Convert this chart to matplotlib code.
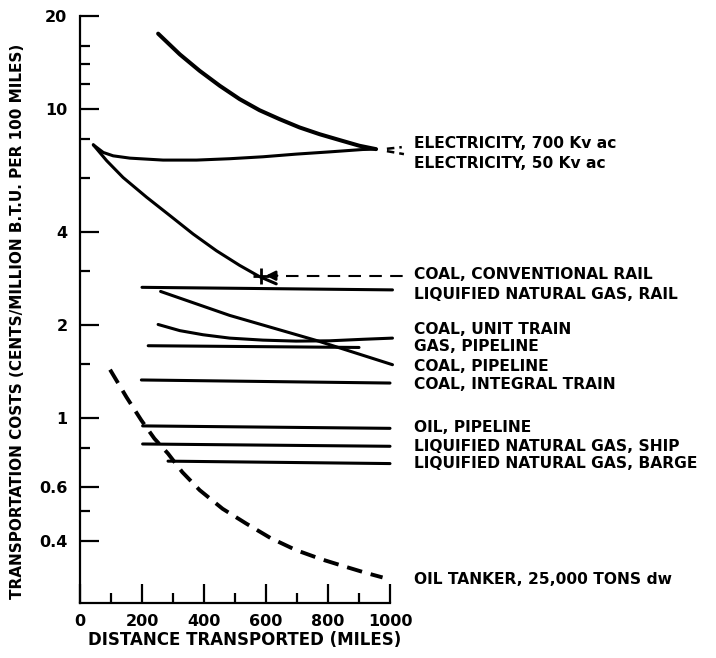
import matplotlib
matplotlib.use('Agg')
import matplotlib.pyplot as plt
from matplotlib.ticker import FixedLocator, NullFormatter

# ---- data ----
elec700_x = [252, 322, 386, 451, 515, 579, 644, 708, 773, 837, 901, 955]
elec700_y = [17.5, 15.0, 13.27, 11.87, 10.75, 9.90, 9.26, 8.71, 8.28, 7.93, 7.60, 7.41]

elec50_x = [43, 75, 107, 161, 268, 376, 483, 590, 697, 805, 912, 955]
elec50_y = [7.65, 7.23, 7.05, 6.93, 6.83, 6.83, 6.90, 7.0, 7.14, 7.26, 7.39, 7.41]

coal_conv_x = [43, 86, 139, 215, 290, 365, 440, 515, 579, 633]
coal_conv_y = [7.65, 6.80, 6.00, 5.18, 4.52, 3.94, 3.48, 3.12, 2.87, 2.72]

lng_rail_x = [200, 1008]
lng_rail_y = [2.65, 2.60]

coal_pipe_x = [260, 483, 762, 1008]
coal_pipe_y = [2.57, 2.15, 1.785, 1.49]

coal_unit_x = [252, 322, 397, 483, 590, 697, 805, 912, 1008]
coal_unit_y = [2.01, 1.92, 1.862, 1.816, 1.789, 1.776, 1.78, 1.80, 1.816]

gas_pipe_x = [220, 900]
gas_pipe_y = [1.716, 1.694]

coal_integral_x = [198, 1000]
coal_integral_y = [1.33, 1.30]

oil_pipe_x = [202, 1000]
oil_pipe_y = [0.945, 0.928]

lng_ship_x = [202, 1000]
lng_ship_y = [0.826, 0.812]

lng_barge_x = [284, 1000]
lng_barge_y = [0.727, 0.714]

tanker_x = [97, 150, 198, 240, 284, 330, 386, 460, 536, 615, 697, 780, 858, 920, 976]
tanker_y = [1.436, 1.17, 0.985, 0.86, 0.769, 0.67, 0.586, 0.51, 0.457, 0.41, 0.375, 0.35, 0.331, 0.317, 0.306]

labels = ["ELECTRICITY, 700 Kv ac", "ELECTRICITY, 50 Kv ac",
          "COAL, CONVENTIONAL RAIL", "LIQUIFIED NATURAL GAS, RAIL",
          "COAL, UNIT TRAIN", "GAS, PIPELINE", "COAL, PIPELINE",
          "COAL, INTEGRAL TRAIN", "OIL, PIPELINE",
          "LIQUIFIED NATURAL GAS, SHIP", "LIQUIFIED NATURAL GAS, BARGE",
          "OIL TANKER, 25,000 TONS dw"]
label_y = [7.73, 6.66, 2.91, 2.52, 1.94, 1.70, 1.475, 1.287, 0.933, 0.812, 0.714, 0.302]

y_major = [0.4, 0.6, 1, 2, 4, 10, 20]
y_major_labels = ["0.4", "0.6", "1", "2", "4", "10", "20"]
y_minor = [0.5, 0.8, 1.5, 3, 6, 8, 12, 14, 16]
x_major = [0, 200, 400, 600, 800, 1000]
x_minor = [100, 300, 500, 700, 900]

# ---- figure ----
FONT = 'DejaVu Sans'
fig = plt.figure(figsize=(7.16, 6.58), dpi=100)
ax = fig.add_axes([80/716, 1-603/658, 310/716, (603-15.7)/658])
ax.set_yscale('log')
ax.set_xlim(0, 1000)
ax.set_ylim(0.253, 20)

for s in ['top', 'right']:
    ax.spines[s].set_visible(False)
for s in ['left', 'bottom']:
    ax.spines[s].set_linewidth(1.6)

ax.yaxis.set_major_locator(FixedLocator(y_major))
ax.set_yticklabels(y_major_labels)
ax.yaxis.set_minor_locator(FixedLocator(y_minor))
ax.yaxis.set_minor_formatter(NullFormatter())
ax.xaxis.set_major_locator(FixedLocator(x_major))
ax.set_xticklabels([str(v) for v in x_major])
ax.xaxis.set_minor_locator(FixedLocator(x_minor))
ax.xaxis.set_minor_formatter(NullFormatter())

ax.tick_params(axis='both', which='major', direction='in', length=14, width=1.6, pad=8)
ax.tick_params(axis='y', which='major', pad=9)
ax.tick_params(axis='both', which='minor', direction='in', length=7, width=1.6)
for t in ax.get_xticklabels() + ax.get_yticklabels():
    t.set_fontfamily(FONT)
    t.set_fontweight('bold')
    t.set_fontsize(11.5)

lw = 2.2
ax.plot(elec700_x, elec700_y, color='black', lw=2.9, solid_capstyle='round', solid_joinstyle='round')
ax.plot(elec50_x, elec50_y, color='black', lw=lw, solid_capstyle='round', solid_joinstyle='round')
ax.plot(coal_conv_x, coal_conv_y, color='black', lw=lw, solid_capstyle='round', solid_joinstyle='round')
for xs, ys in [(lng_rail_x, lng_rail_y), (coal_pipe_x, coal_pipe_y),
               (coal_unit_x, coal_unit_y), (gas_pipe_x, gas_pipe_y),
               (coal_integral_x, coal_integral_y), (oil_pipe_x, oil_pipe_y),
               (lng_ship_x, lng_ship_y), (lng_barge_x, lng_barge_y)]:
    ax.plot(xs, ys, color='black', lw=lw, solid_capstyle='round',
            solid_joinstyle='round', clip_on=False)

ax.plot(tanker_x, tanker_y, color='black', lw=2.8, dashes=(4, 2.3), clip_on=False)

# conventional rail marker and dashed leader
ax.plot([585], [2.89], marker='+', markersize=11, mew=2, color='black')
ax.annotate('', xy=(590, 2.89), xytext=(645, 2.89),
            arrowprops=dict(arrowstyle='-|>', color='black', lw=1.8,
                            mutation_scale=14))
ax.plot([665, 1052], [2.89, 2.89], color='black', lw=1.5, dashes=(6, 4), clip_on=False)

# electricity leaders
ax.plot([990, 1038], [7.43, 7.52], color='black', lw=1.8, dashes=(3, 2), clip_on=False)
ax.plot([990, 1045], [7.3, 7.14], color='black', lw=1.8, dashes=(3, 2), clip_on=False)

for lab, yv in zip(labels, label_y):
    ax.text(1078, yv, lab, ha='left', va='center', fontsize=11.2,
            fontweight='bold', family=FONT, clip_on=False)

fig.text(245/716, 1-640/658, "DISTANCE TRANSPORTED (MILES)", ha='center', va='center',
         fontsize=12, fontweight='bold', family=FONT)
fig.text(18/716, 1-321/658, "TRANSPORTATION COSTS (CENTS/MILLION B.T.U. PER 100 MILES)",
         ha='center', va='center', rotation=90, fontsize=11, fontweight='bold', family=FONT)

fig.savefig('out.png', dpi=100)
